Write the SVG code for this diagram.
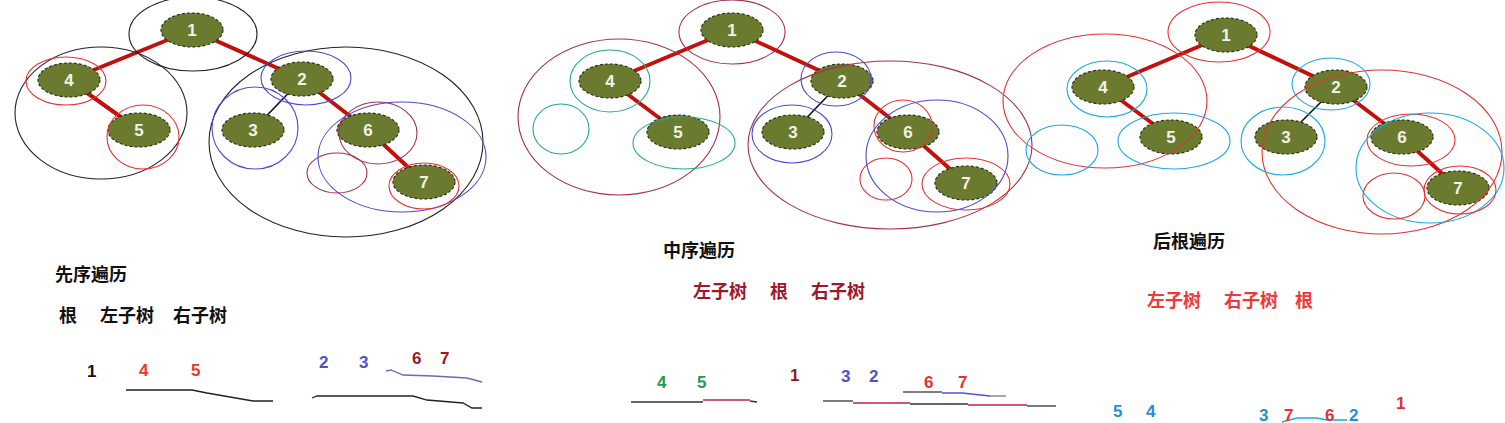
<svg xmlns="http://www.w3.org/2000/svg" width="1505" height="423" viewBox="0 0 1505 423">
<style>
.node ellipse{fill:#6a7b2f;stroke:#2e3318;stroke-width:1.2;stroke-dasharray:3 2}
.node text{font-family:"Liberation Sans",Arial,sans-serif;font-weight:bold;font-size:17px;fill:#f2f2e6;text-anchor:middle}
.edge{stroke:#c4100c;stroke-width:4;stroke-linecap:round;fill:none}
.thin{stroke:#111;stroke-width:1.6}
.ring{fill:none;stroke-width:1.1}
.k{stroke:#222}.r{stroke:#e83030}.b{stroke:#4a4ad8}.g{stroke:#22aa88}.c{stroke:#1aa8ea}.dr{stroke:#a8304a}
.cjk{font-family:"Noto Sans CJK SC",sans-serif;font-weight:bold;font-size:18px}
.num{font-family:"Liberation Sans",Arial,sans-serif;font-weight:bold;font-size:17px}
.ul{fill:none;stroke-width:1.3}
</style>
<rect width="1505" height="423" fill="#ffffff"/>

<g id="connectors">
  <line class="edge" x1="192" y1="30" x2="69" y2="80"/>
  <line class="edge" x1="192" y1="30" x2="302" y2="79"/>
  <line class="edge" x1="69" y1="80" x2="139" y2="130"/>
  <line class="edge thin" x1="302" y1="79" x2="253" y2="130"/>
  <line class="edge" x1="302" y1="79" x2="368" y2="130"/>
  <line class="edge" x1="368" y1="130" x2="424" y2="182"/>
  <line class="edge" x1="732" y1="30" x2="610" y2="81"/>
  <line class="edge" x1="732" y1="30" x2="842" y2="81"/>
  <line class="edge" x1="610" y1="81" x2="678" y2="132"/>
  <line class="edge thin" x1="842" y1="81" x2="793" y2="132"/>
  <line class="edge" x1="842" y1="81" x2="908" y2="132"/>
  <line class="edge" x1="908" y1="132" x2="966" y2="183"/>
  <line class="edge" x1="1226" y1="35" x2="1103" y2="87"/>
  <line class="edge" x1="1226" y1="35" x2="1336" y2="87"/>
  <line class="edge" x1="1103" y1="87" x2="1171" y2="137"/>
  <line class="edge thin" x1="1336" y1="87" x2="1286" y2="137"/>
  <line class="edge" x1="1336" y1="87" x2="1402" y2="137"/>
  <line class="edge" x1="1402" y1="137" x2="1458" y2="188"/>
</g>

<g id="pre-nodes">
  <g id="pre-1" class="node"><ellipse cx="192" cy="30" rx="31" ry="17"/><text x="192" y="36">1</text></g>
  <g id="pre-4" class="node"><ellipse cx="69" cy="80" rx="31" ry="17"/><text x="69" y="86">4</text></g>
  <g id="pre-5" class="node"><ellipse cx="139" cy="130" rx="31" ry="17"/><text x="139" y="136">5</text></g>
  <g id="pre-2" class="node"><ellipse cx="302" cy="79" rx="31" ry="17"/><text x="302" y="85">2</text></g>
  <g id="pre-3" class="node"><ellipse cx="253" cy="130" rx="31" ry="17"/><text x="253" y="136">3</text></g>
  <g id="pre-6" class="node"><ellipse cx="368" cy="130" rx="31" ry="17"/><text x="368" y="136">6</text></g>
  <g id="pre-7" class="node"><ellipse cx="424" cy="182" rx="31" ry="17"/><text x="424" y="188">7</text></g>
</g>

<g id="in-nodes">
  <g id="in-1" class="node"><ellipse cx="732" cy="30" rx="31" ry="17"/><text x="732" y="36">1</text></g>
  <g id="in-4" class="node"><ellipse cx="610" cy="81" rx="31" ry="17"/><text x="610" y="87">4</text></g>
  <g id="in-5" class="node"><ellipse cx="678" cy="132" rx="31" ry="17"/><text x="678" y="138">5</text></g>
  <g id="in-2" class="node"><ellipse cx="842" cy="81" rx="31" ry="17"/><text x="842" y="87">2</text></g>
  <g id="in-3" class="node"><ellipse cx="793" cy="132" rx="31" ry="17"/><text x="793" y="138">3</text></g>
  <g id="in-6" class="node"><ellipse cx="908" cy="132" rx="31" ry="17"/><text x="908" y="138">6</text></g>
  <g id="in-7" class="node"><ellipse cx="966" cy="183" rx="31" ry="17"/><text x="966" y="189">7</text></g>
</g>

<g id="post-nodes">
  <g id="post-1" class="node"><ellipse cx="1226" cy="35" rx="31" ry="17"/><text x="1226" y="41">1</text></g>
  <g id="post-4" class="node"><ellipse cx="1103" cy="87" rx="31" ry="17"/><text x="1103" y="93">4</text></g>
  <g id="post-5" class="node"><ellipse cx="1171" cy="137" rx="31" ry="17"/><text x="1171" y="143">5</text></g>
  <g id="post-2" class="node"><ellipse cx="1336" cy="87" rx="31" ry="17"/><text x="1336" y="93">2</text></g>
  <g id="post-3" class="node"><ellipse cx="1286" cy="137" rx="31" ry="17"/><text x="1286" y="143">3</text></g>
  <g id="post-6" class="node"><ellipse cx="1402" cy="137" rx="31" ry="17"/><text x="1402" y="143">6</text></g>
  <g id="post-7" class="node"><ellipse cx="1458" cy="188" rx="31" ry="17"/><text x="1458" y="194">7</text></g>
</g>

<g id="rings">
  <ellipse class="ring k" cx="193" cy="34" rx="64" ry="37"/>
  <ellipse class="ring k" cx="101" cy="113" rx="86" ry="66"/>
  <ellipse class="ring r" cx="66" cy="81" rx="40" ry="24"/>
  <ellipse class="ring r" cx="143" cy="137" rx="36" ry="32"/>
  <ellipse class="ring k" cx="346" cy="142" rx="137" ry="95"/>
  <ellipse class="ring b" cx="306" cy="78" rx="45" ry="27"/>
  <ellipse class="ring b" cx="255" cy="128" rx="43" ry="41"/>
  <ellipse class="ring dr" cx="378" cy="133" rx="39" ry="31"/>
  <ellipse class="ring b" cx="402" cy="157" rx="84" ry="55"/>
  <ellipse class="ring dr" cx="337" cy="173" rx="30" ry="20"/>
  <ellipse class="ring r" cx="424" cy="186" rx="35" ry="23"/>
  <ellipse class="ring dr" cx="732" cy="32" rx="53" ry="32"/>
  <ellipse class="ring dr" cx="619" cy="117" rx="101" ry="78"/>
  <ellipse class="ring g" cx="610" cy="81" rx="40" ry="31"/>
  <ellipse class="ring g" cx="561" cy="129" rx="28" ry="25"/>
  <ellipse class="ring g" cx="684" cy="143" rx="51" ry="26"/>
  <ellipse class="ring b" cx="836" cy="79" rx="35" ry="27"/>
  <ellipse class="ring dr" cx="890" cy="145" rx="142" ry="84"/>
  <ellipse class="ring b" cx="792" cy="134" rx="40" ry="29"/>
  <ellipse class="ring r" cx="903" cy="126" rx="29" ry="26"/>
  <ellipse class="ring b" cx="937" cy="156" rx="71" ry="56"/>
  <ellipse class="ring r" cx="886" cy="179" rx="26" ry="21"/>
  <ellipse class="ring r" cx="966" cy="184" rx="44" ry="26"/>
  <ellipse class="ring r" cx="1219" cy="32" rx="51" ry="30"/>
  <ellipse class="ring r" cx="1105" cy="101" rx="102" ry="67"/>
  <ellipse class="ring c" cx="1107" cy="89" rx="40" ry="28"/>
  <ellipse class="ring c" cx="1062" cy="150" rx="36" ry="25"/>
  <ellipse class="ring c" cx="1174" cy="141" rx="56" ry="28"/>
  <ellipse class="ring c" cx="1331" cy="84" rx="39" ry="26"/>
  <ellipse class="ring r" cx="1382" cy="152" rx="120" ry="82"/>
  <ellipse class="ring c" cx="1283" cy="141" rx="42" ry="34"/>
  <ellipse class="ring r" cx="1411" cy="140" rx="44" ry="26"/>
  <ellipse class="ring c" cx="1430" cy="168" rx="74" ry="55"/>
  <ellipse class="ring r" cx="1394" cy="196" rx="31" ry="23"/>
  <ellipse class="ring r" cx="1460" cy="190" rx="36" ry="24"/>
</g>

<g id="preorder-text">
  <text class="cjk" x="55" y="281" fill="#111">先序遍历</text>
  <text class="cjk" x="59" y="322" fill="#111">根</text>
  <text class="cjk" x="100" y="322" fill="#111">左子树</text>
  <text class="cjk" x="173" y="322" fill="#111">右子树</text>
  <text class="num" x="87" y="377" fill="#111">1</text>
  <text class="num" x="139" y="376" fill="#e83a2a">4</text>
  <text class="num" x="191" y="376" fill="#e83a2a">5</text>
  <text class="num" x="319" y="368" fill="#5050c8">2</text>
  <text class="num" x="359" y="368" fill="#5050c8">3</text>
  <text class="num" x="412" y="364" fill="#9a1a2a">6</text>
  <text class="num" x="440" y="364" fill="#9a1a2a">7</text>
  <polyline class="ul" stroke="#222" points="126,390 192,390 207,393 253,401 273,401"/>
  <polyline class="ul" stroke="#6a6ab8" points="386,371 391,370 403,375 433,376 467,378 482,382"/>
  <polyline class="ul" stroke="#222" points="312,398 317,396 350,396 413,396 427,400 463,403 472,408 482,408"/>
</g>

<g id="inorder-text">
  <text class="cjk" x="663" y="257" fill="#111">中序遍历</text>
  <text class="cjk" x="693" y="298" fill="#a01828">左子树</text>
  <text class="cjk" x="770" y="298" fill="#a01828">根</text>
  <text class="cjk" x="811" y="298" fill="#a01828">右子树</text>
  <text class="num" x="657" y="388" fill="#2a9a50">4</text>
  <text class="num" x="697" y="388" fill="#2a9a50">5</text>
  <text class="num" x="790" y="381" fill="#8a1a1a">1</text>
  <text class="num" x="841" y="382" fill="#5050c8">3</text>
  <text class="num" x="869" y="382" fill="#5050c8">2</text>
  <text class="num" x="924" y="388" fill="#e83030">6</text>
  <text class="num" x="958" y="388" fill="#e83030">7</text>
  <polyline class="ul" stroke="#333" points="631,402 703,402"/>
  <polyline class="ul" stroke="#c02040" points="703,400 750,400"/>
  <polyline class="ul" stroke="#333" points="750,401 757,402"/>
  <polyline class="ul" stroke="#333" points="823,401 853,401"/>
  <polyline class="ul" stroke="#c02040" points="853,403 910,403"/>
  <polyline class="ul" stroke="#333" points="910,404 968,404"/>
  <polyline class="ul" stroke="#c02040" points="968,405 1027,405"/>
  <polyline class="ul" stroke="#333" points="1027,406 1056,406"/>
  <polyline class="ul" stroke="#555" points="903,392 942,392"/>
  <polyline class="ul" stroke="#5050e0" points="942,393 962,393 990,396"/>
  <polyline class="ul" stroke="#777" points="990,396 1006,396"/>
</g>

<g id="postorder-text">
  <text class="cjk" x="1153" y="248" fill="#111">后根遍历</text>
  <text class="cjk" x="1147" y="307" fill="#f03838">左子树</text>
  <text class="cjk" x="1224" y="307" fill="#f03838">右子树</text>
  <text class="cjk" x="1295" y="307" fill="#f03838">根</text>
  <polyline class="ul" stroke="#1aa8ea" points="1282,422 1297,418 1317,418 1327,420 1347,420"/>
  <text class="num" x="1113" y="417" fill="#1e90e0">5</text>
  <text class="num" x="1146" y="417" fill="#1e90e0">4</text>
  <text class="num" x="1259" y="421" fill="#1e90e0">3</text>
  <text class="num" x="1284" y="421" fill="#e83030">7</text>
  <text class="num" x="1325" y="421" fill="#e83030">6</text>
  <text class="num" x="1349" y="421" fill="#1e90e0">2</text>
  <text class="num" x="1396" y="409" fill="#e83030">1</text>
</g>
</svg>
